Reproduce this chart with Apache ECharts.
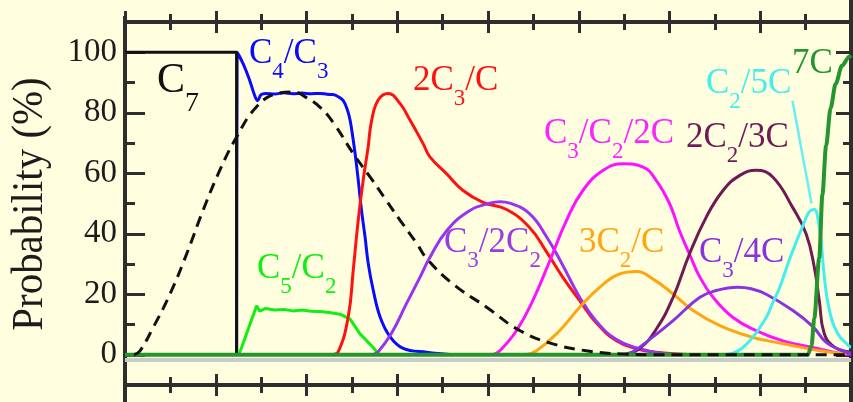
<!DOCTYPE html>
<html>
<head>
<meta charset="utf-8">
<script src="https://cdn.jsdelivr.net/npm/echarts@6/dist/echarts.min.js"></script>
<style>
  html, body { margin: 0; padding: 0; background: #ffffe0; }
  #chart { width: 853px; height: 402px; }
</style>
</head>
<body>
<div id="chart"></div>
<script>
// Fragment probabilities (%) versus excitation, one array per channel: [x, probability]
const c7 = [[0, 100], [2.46, 100], [2.46, 0]];
const c4c3 = [[2.46, 0], [2.47, 100], [2.61, 96], [2.75, 90.6], [2.86, 85.6], [2.92, 84], [3.0, 86], [3.1, 86.4],
  [3.3, 86.2], [3.5, 86.6], [3.7, 86.3], [3.9, 86.5], [4.1, 86.3], [4.3, 86.4], [4.45, 86.1], [4.58, 86],
  [4.7, 85.3], [4.81, 84], [4.9, 81], [4.96, 77.6], [5.02, 72], [5.07, 66.6], [5.14, 57.8], [5.21, 48],
  [5.29, 39], [5.36, 30.2], [5.47, 21.4], [5.62, 12.6], [5.84, 6], [6.13, 2.1], [6.65, 0.8], [7.2, 0]];
const c5c2 = [[2.5, 0], [2.56, 2], [2.9, 16.2], [2.97, 14.4], [3.1, 15.3], [3.3, 14.8], [3.5, 15], [3.7, 14.5],
  [3.9, 14.8], [4.1, 14.4], [4.3, 14.3], [4.5, 14], [4.74, 13.4], [4.96, 11.8], [5.18, 6.9], [5.47, 2.4], [5.6, 0]];
const c3c3c = [[4.55, 0], [4.7, 1], [4.92, 12.6], [5.03, 28], [5.14, 44.5], [5.25, 57.8], [5.36, 68.8], [5.43, 77],
  [5.58, 84.2], [5.8, 86.4], [6.06, 83.1], [6.28, 77.6], [6.57, 69.8], [6.72, 65.4], [7.09, 59.8], [7.45, 54.3],
  [7.89, 50.4], [8.41, 48], [8.92, 42], [9.29, 34], [9.65, 25.6], [10.02, 17.9], [10.39, 10.5], [10.83, 4.6],
  [11.27, 2], [11.7, 0.8], [12.5, 0]];
const c3c2c2 = [[5.45, 0], [5.58, 1], [5.87, 7], [6.2, 16.8], [6.5, 25.6], [6.72, 32.2], [7.09, 41], [7.6, 47.7],
  [8.04, 50.1], [8.26, 50.6], [8.48, 50.1], [8.92, 46.6], [9.29, 39], [9.65, 29.5], [10.02, 19], [10.39, 11],
  [10.83, 5], [11.34, 2], [11.8, 0.5], [12.3, 0]];
const c3c2c2c = [[8.1, 0], [8.26, 1.3], [8.63, 8], [8.99, 18], [9.36, 31], [9.73, 44.4], [10.09, 54.3], [10.54, 61],
  [10.98, 63.1], [11.42, 62], [11.71, 57.6], [12.0, 50], [12.22, 41], [12.44, 33.3], [12.67, 25.6], [12.96, 19],
  [13.4, 12.3], [13.91, 8], [14.5, 4.6], [15.16, 2.4], [15.75, 0.5], [16, 0.2]];
const c2c2c2c = [[8.8, 0], [9.07, 1.3], [9.58, 8], [10.02, 15.7], [10.46, 22.3], [10.9, 26.7], [11.27, 27.5],
  [11.64, 25], [12.08, 20.1], [12.52, 14.6], [13.11, 9.6], [13.84, 5.7], [14.57, 3.5], [15.31, 1.3], [15.9, 0.3]];
const c2c2c3c = [[11.0, 0], [11.34, 2], [11.71, 8.5], [12.08, 19], [12.44, 33.3], [12.81, 45.5], [13.18, 54.3],
  [13.55, 59.3], [13.91, 61], [14.28, 58.7], [14.71, 48.8], [15.01, 40], [15.19, 29], [15.3, 18], [15.41, 7],
  [15.63, 2.6], [15.96, 1]];
const c3c4c = [[10.9, 0], [11.19, 1], [11.6, 5.5], [12.08, 11.3], [12.67, 19], [13.05, 21.3], [13.5, 22.3],
  [13.8, 21.8], [14.13, 20], [14.72, 14.6], [15.16, 9.3], [15.46, 4], [15.82, 1.3], [16, 0.5]];
const c2c5c = [[13.2, 0], [13.4, 0.5], [13.77, 4.6], [14.13, 12.3], [14.27, 17], [14.43, 22.3], [14.64, 31.3],
  [14.93, 42.3], [15.12, 47.8], [15.2, 48], [15.27, 45], [15.34, 38], [15.41, 26], [15.52, 15], [15.7, 7.2],
  [15.96, 2.8], [16, 2.5]];
const c2c5cPointer = [[14.71, 84], [15.13, 50]];
const c7atoms = [[0, 0], [15.05, 0], [15.13, 3], [15.19, 12], [15.3, 32], [15.37, 53], [15.45, 69], [15.55, 81.5],
  [15.66, 89.5], [15.8, 95.5], [15.96, 98.5], [16, 99]];
const totalYield = [[0.2, 0], [0.33, 1.3], [0.62, 9], [0.99, 20], [1.36, 33.4], [1.72, 47.7], [2.09, 61], [2.46, 72],
  [2.9, 82], [3.34, 86.3], [3.71, 86.9], [4.0, 85], [4.3, 81.8], [4.6, 76.5], [5.03, 66.5], [5.4, 58.8],
  [5.76, 51], [6.06, 44.5], [6.43, 36.8], [6.65, 31.8], [7.22, 23.5], [7.97, 15.7], [8.7, 8], [9.43, 3.6],
  [10.17, 1.3], [10.9, 0.3], [11.8, 0], [16, 0]];

// Axis ticks
const yMajorTicks = [0, 20, 40, 60, 80, 100];
const yMinorTicks = [10, 30, 50, 70, 90];

const SERIF = "'Liberation Serif', 'DejaVu Serif', serif";
const AXIS = '#2e2e2e';

function curve(data, color, extra) {
  return Object.assign({
    type: 'line', data, symbol: 'none', showSymbol: false,
    smooth: 0.45,
    lineStyle: { color, width: 3 }, itemStyle: { color },
    animation: false, silent: true
  }, extra || {});
}

const chart = echarts.init(document.getElementById('chart'), null, { renderer: 'canvas' });

const xBase = {
  type: 'value', min: 0, max: 16, interval: 2, gridIndex: 0,
  axisLine: { show: true, onZero: false, lineStyle: { color: AXIS, width: 4 } },
  axisLabel: { show: false }, splitLine: { show: false },
  minorTick: { show: true, splitNumber: 2, length: 8, lineStyle: { color: AXIS, width: 3 } }
};
function xAxisAt(position, inside) {
  return Object.assign({}, xBase, {
    position,
    axisTick: { show: true, inside, length: 11, lineStyle: { color: AXIS, width: 3 } }
  });
}
function yAxisAt(position, ticks, len, labels, line) {
  return {
    type: 'value', min: -10, max: 110, position,
    axisLine: { show: line, onZero: false, lineStyle: { color: AXIS, width: 4 } },
    axisTick: { show: true, inside: true, length: len, customValues: ticks, lineStyle: { color: AXIS, width: 3 } },
    axisLabel: labels ? {
      show: true, customValues: yMajorTicks, fontFamily: SERIF, fontSize: 33, color: '#1c1c1c', margin: 8
    } : { show: false },
    splitLine: { show: false }
  };
}

chart.setOption({
  backgroundColor: '#ffffe0',
  animation: false,
  grid: { left: 125, right: 2, top: 22, bottom: 17, containLabel: false },
  xAxis: [xAxisAt('bottom', false), xAxisAt('bottom', true), xAxisAt('top', false), xAxisAt('top', true)],
  yAxis: [
    yAxisAt('left', yMajorTicks, 20, true, true),
    yAxisAt('left', yMinorTicks, 10, false, false),
    yAxisAt('right', yMajorTicks, 15, false, true),
    yAxisAt('right', yMinorTicks, 8, false, false)
  ],
  series: [
    curve(c4c3, '#0a0aff', { smooth: 0.4 }),
    curve(c7, '#111111', { smooth: false }),
    curve(c5c2, '#11ee11', { smooth: false }),
    curve(c3c3c, '#ff1111'),
    curve(c3c2c2, '#9933ee'),
    curve(c3c2c2c, '#ff11ff'),
    curve(c2c2c2c, '#ffa510'),
    curve(c2c2c3c, '#701a55'),
    curve(c3c4c, '#8833dd'),
    curve(c2c5c, '#44eeee'),
    curve(c2c5cPointer, '#66f0f0', { smooth: false, lineStyle: { color: '#66f0f0', width: 2.5 } }),
    curve(c7atoms, '#26952e', {
      smooth: 0.3, smoothMonotone: 'x',
      lineStyle: { color: '#26952e', width: 4 },
      markLine: {
        silent: true, symbol: 'none', label: { show: false },
        lineStyle: { color: '#c9cdca', width: 4, type: 'solid' },
        data: [{ yAxis: -1.7 }]
      }
    }),
    curve(totalYield, '#111111', { smooth: 0.45, lineStyle: { color: '#111111', width: 3, type: [11, 7] } })
  ]
});

// Channel labels with subscripts
function rich(main, sub, drop) {
  return {
    n: { fontFamily: SERIF, fontSize: main, verticalAlign: 'top' },
    s: { fontFamily: SERIF, fontSize: sub, verticalAlign: 'top', padding: [drop, 0, 0, 0] }
  };
}
const labels = [
  { text: '{n|C}{s|7}', color: '#111111', x: 157, y: 60, main: 42, sub: 28, drop: 30 },
  { text: '{n|C}{s|4}{n|/C}{s|3}', color: '#0a0aff', x: 249, y: 36, main: 35, sub: 23, drop: 24 },
  { text: '{n|2C}{s|3}{n|/C}', color: '#ff1111', x: 413, y: 63, main: 35, sub: 23, drop: 24 },
  { text: '{n|C}{s|3}{n|/C}{s|2}{n|/2C}', color: '#ff22ff', x: 544, y: 116, main: 35, sub: 23, drop: 24 },
  { text: '{n|2C}{s|2}{n|/3C}', color: '#701a55', x: 686, y: 120, main: 35, sub: 23, drop: 24 },
  { text: '{n|C}{s|2}{n|/5C}', color: '#44eeee', x: 706, y: 66, main: 35, sub: 23, drop: 24 },
  { text: '{n|7C}', color: '#26952e', x: 792, y: 46, main: 35, sub: 23, drop: 24 },
  { text: '{n|C}{s|5}{n|/C}{s|2}', color: '#11ee11', x: 257, y: 251, main: 35, sub: 23, drop: 24 },
  { text: '{n|C}{s|3}{n|/2C}{s|2}', color: '#9a3ce6', x: 444, y: 225, main: 35, sub: 23, drop: 24 },
  { text: '{n|3C}{s|2}{n|/C}', color: '#ffa510', x: 579, y: 225, main: 35, sub: 23, drop: 24 },
  { text: '{n|C}{s|3}{n|/4C}', color: '#8833dd', x: 699, y: 235, main: 35, sub: 23, drop: 24 }
];

const graphics = labels.map(l => ({
  type: 'text', x: l.x, y: l.y, silent: true, z: 50,
  style: { text: l.text, fill: l.color, align: 'left', verticalAlign: 'top', rich: rich(l.main, l.sub, l.drop) }
}));

// Axis title, read bottom to top
graphics.push({
  type: 'text', x: 30, y: 204, rotation: Math.PI / 2, scaleX: 0.93, silent: true, z: 50,
  style: {
    text: 'Probability (%)', fill: '#1c1c1c', fontFamily: SERIF, fontSize: 44,
    align: 'center', verticalAlign: 'middle'
  }
});

// Frame lines continuing past the panel edges
const frame = [[125, 16, 125, 22], [125, 385, 125, 402], [851, 0, 851, 22], [851, 385, 851, 402]];
frame.forEach(f => graphics.push({
  type: 'line', silent: true, z: 40,
  shape: { x1: f[0], y1: f[1], x2: f[2], y2: f[3] },
  style: { stroke: AXIS, lineWidth: 4 }
}));

chart.setOption({ graphic: graphics });
</script>
</body>
</html>
